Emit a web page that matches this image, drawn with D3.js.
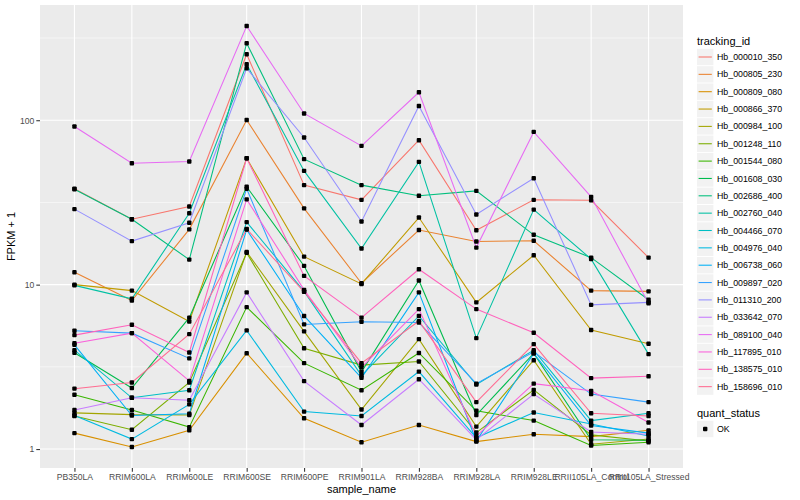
<!DOCTYPE html>
<html><head><meta charset="utf-8">
<script src="https://cdn.jsdelivr.net/npm/d3@7"></script>
<style>body{margin:0;background:#fff} svg{display:block} text{font-family:"Liberation Sans",Arial,sans-serif}</style>
</head><body><svg id="c" width="800" height="500"></svg>
<script>
// ---- data ----
const samples = ["PB350LA","RRIM600LA","RRIM600LE","RRIM600SE","RRIM600PE","RRIM901LA","RRIM928BA","RRIM928LA","RRIM928LE","RRII105LA_Control","RRII105LA_Stressed"];
const trackingIds = ["Hb_000010_350","Hb_000805_230","Hb_000809_080","Hb_000866_370","Hb_000984_100","Hb_001248_110","Hb_001544_080","Hb_001608_030","Hb_002686_400","Hb_002760_040","Hb_004466_070","Hb_004976_040","Hb_006738_060","Hb_009897_020","Hb_011310_200","Hb_033642_070","Hb_089100_040","Hb_117895_010","Hb_138575_010","Hb_158696_010"];
const yTickValues = [1, 10, 100];
const yTickLabels = ["1", "10", "100"];
const statusLabels = ["OK"];

const hb_000010_350 = [38.3, 25.0, 29.9, 252, 40.3, 32.8, 75.6, 21.4, 32.8, 32.6, 14.6];
const hb_000805_230 = [11.9, 8.0, 21.7, 100.4, 29.1, 10.2, 21.5, 18.3, 18.5, 9.2, 9.1];
const hb_000809_080 = [1.25, 1.03, 1.3, 3.83, 1.54, 1.1, 1.4, 1.11, 1.23, 1.19, 1.3];
const hb_000866_370 = [10.0, 9.2, 5.97, 58.7, 14.8, 10.1, 25.6, 7.8, 15.1, 5.3, 4.37];
const hb_000984_100 = [1.66, 1.62, 1.61, 15.8, 5.2, 1.74, 4.66, 1.37, 3.47, 1.07, 1.15];
const hb_001248_110 = [1.59, 1.31, 2.54, 15.6, 4.1, 3.24, 3.41, 1.26, 2.29, 1.22, 1.12];
const hb_001544_080 = [2.14, 1.73, 1.36, 7.3, 3.33, 2.28, 3.84, 1.71, 1.49, 1.05, 1.1];
const hb_001608_030 = [3.85, 2.35, 6.3, 39.4, 13.0, 2.95, 10.6, 1.61, 3.82, 1.14, 1.13];
const hb_002686_400 = [38.0, 25.0, 14.2, 294, 58, 40.3, 34.7, 37.2, 20.1, 14.6, 8.1];
const hb_002760_040 = [9.9, 8.2, 27.2, 219, 49.2, 16.6, 55.8, 4.73, 28.6, 14.3, 3.78];
const hb_004466_070 = [4.0, 2.05, 2.28, 24.0, 9.1, 2.8, 6.45, 2.47, 4.0, 1.49, 1.65];
const hb_004976_040 = [1.6, 1.15, 1.87, 5.27, 1.69, 1.59, 2.96, 1.17, 1.67, 1.42, 1.2];
const hb_006738_060 = [4.3, 1.6, 1.64, 21.6, 6.45, 2.71, 8.97, 1.12, 3.82, 1.39, 1.25];
const hb_009897_020 = [5.24, 5.07, 3.56, 38.3, 5.73, 5.95, 5.88, 2.5, 3.9, 2.16, 1.93];
const hb_011310_200 = [28.8, 18.4, 23.8, 207, 78.5, 24.2, 122, 26.7, 44.4, 7.53, 7.8];
const hb_033642_070 = [1.73, 2.05, 1.98, 8.97, 2.59, 1.4, 2.66, 1.14, 2.16, 1.27, 1.23];
const hb_089100_040 = [91.6, 54.8, 56.1, 374, 110, 69.8, 148, 16.8, 84.9, 34.2, 7.7];
const hb_117895_010 = [4.4, 5.07, 2.6, 33.0, 9.3, 3.14, 7.1, 1.2, 2.5, 2.26, 1.45];
const hb_138575_010 = [4.93, 5.7, 3.87, 58.7, 11.3, 6.3, 12.4, 7.1, 5.1, 2.7, 2.77];
const hb_158696_010 = [2.33, 2.54, 5.0, 21.8, 9.05, 3.33, 6.0, 1.93, 4.35, 1.65, 1.59];

const seriesValues = [hb_000010_350, hb_000805_230, hb_000809_080, hb_000866_370, hb_000984_100, hb_001248_110, hb_001544_080, hb_001608_030, hb_002686_400, hb_002760_040, hb_004466_070, hb_004976_040, hb_006738_060, hb_009897_020, hb_011310_200, hb_033642_070, hb_089100_040, hb_117895_010, hb_138575_010, hb_158696_010];

// ---- style ----
const palette = ["#F8766D","#EA8331","#D89000","#C09B00","#A3A500","#7CAE00","#39B600","#00BB4E","#00BF7D","#00C1A3","#00BFC4","#00BAE0","#00B0F6","#35A2FF","#9590FF","#C77CFF","#E76BF3","#FA62DB","#FF62BC","#FF6C91"];

const series = trackingIds.map((id, i) => ({id, color: palette[i], values: seriesValues[i].map((v, j) => ({sample: samples[j], v}))}));

const svg = d3.select("#c");
const P = {l: 40, r: 683, t: 5, b: 468};

const x = d3.scalePoint().domain(samples).range([P.l, P.r]).padding(0.6);
const all = seriesValues.flat();
const lmin = Math.log10(d3.min(all)), lmax = Math.log10(d3.max(all));
const ex = (lmax - lmin) * 0.05;
const y = d3.scaleLog().domain([Math.pow(10, lmin - ex), Math.pow(10, lmax + ex)]).range([P.b, P.t]);

// panel
svg.append("rect").attr("x", P.l).attr("y", P.t).attr("width", P.r - P.l).attr("height", P.b - P.t).attr("fill", "#EBEBEB");
const minor = [Math.pow(10, 0.5), Math.pow(10, 1.5), Math.pow(10, 2.5)].filter(v => y(v) >= P.t && y(v) <= P.b);
svg.append("g").selectAll("line").data(minor).join("line")
  .attr("x1", P.l).attr("x2", P.r).attr("y1", d => y(d)).attr("y2", d => y(d))
  .attr("stroke", "#fff").attr("stroke-width", 0.55);
svg.append("g").selectAll("line").data(yTickValues).join("line")
  .attr("x1", P.l).attr("x2", P.r).attr("y1", d => y(d)).attr("y2", d => y(d))
  .attr("stroke", "#fff").attr("stroke-width", 1.1);
svg.append("g").selectAll("line").data(samples).join("line")
  .attr("x1", d => x(d)).attr("x2", d => x(d)).attr("y1", P.t).attr("y2", P.b)
  .attr("stroke", "#fff").attr("stroke-width", 1.1);

// lines
const line = d3.line().x(d => x(d.sample)).y(d => y(d.v));
svg.append("g").selectAll("path").data(series).join("path")
  .attr("d", d => line(d.values)).attr("fill", "none")
  .attr("stroke", d => d.color).attr("stroke-width", 1.07);

// points
svg.append("g").selectAll("g").data(series).join("g")
  .selectAll("rect").data(d => d.values).join("rect")
  .attr("x", d => x(d.sample) - 2.2).attr("y", d => y(d.v) - 2.2)
  .attr("width", 4.4).attr("height", 4.4).attr("rx", 1).attr("fill", "#000");

// axes
const yAxis = d3.axisLeft(y).tickValues(yTickValues).tickFormat((d, i) => yTickLabels[i]).tickSize(3.7).tickPadding(2);
const gy = svg.append("g").attr("transform", `translate(${P.l},0)`).call(yAxis);
const xAxis = d3.axisBottom(x).tickSize(3.7).tickPadding(2);
const gx = svg.append("g").attr("transform", `translate(0,${P.b})`).call(xAxis);
[gy, gx].forEach(g => {
  g.select(".domain").remove();
  g.selectAll(".tick line").attr("stroke", "#333").attr("stroke-width", 1.07);
  g.selectAll(".tick text").attr("fill", "#4D4D4D").style("font-size", "8.6px").style("font-family", "Liberation Sans, Arial, sans-serif");
});

svg.append("text").attr("x", (P.l + P.r) / 2).attr("y", 493).attr("text-anchor", "middle")
  .style("font-size", "11px").attr("fill", "#000").text("sample_name");
svg.append("text").attr("transform", `translate(15,${(P.t + P.b) / 2}) rotate(-90)`).attr("text-anchor", "middle")
  .style("font-size", "11px").attr("fill", "#000").text("FPKM + 1");

// legend
const lg = svg.append("g");
lg.append("text").attr("x", 697).attr("y", 44.5).style("font-size", "11px").text("tracking_id");
const step = 17.35, y0 = 57;
const items = lg.selectAll("g.item").data(series).join("g").attr("class", "item")
  .attr("transform", (d, i) => `translate(697,${y0 + i * step})`);
items.append("rect").attr("x", 0).attr("y", -8.2).attr("width", 16.4).attr("height", 16.4).attr("fill", "#F2F2F2");
items.append("line").attr("x1", 1.6).attr("x2", 14.8).attr("y1", 0).attr("y2", 0).attr("stroke", d => d.color).attr("stroke-width", 1.07);
items.append("text").attr("x", 20).attr("y", 0).attr("dy", "0.35em").style("font-size", "8.8px").text(d => d.id);

lg.append("text").attr("x", 697).attr("y", 416.5).style("font-size", "11px").text("quant_status");
const st = lg.selectAll("g.st").data(statusLabels).join("g").attr("class", "st")
  .attr("transform", (d, i) => `translate(697,${429 + i * step})`);
st.append("rect").attr("x", 0).attr("y", -8.2).attr("width", 16.4).attr("height", 16.4).attr("fill", "#F2F2F2");
st.append("rect").attr("x", 6).attr("y", -2.2).attr("width", 4.4).attr("height", 4.4).attr("rx", 1).attr("fill", "#000");
st.append("text").attr("x", 20).attr("y", 0).attr("dy", "0.35em").style("font-size", "8.8px").text(d => d);
</script></body></html>
